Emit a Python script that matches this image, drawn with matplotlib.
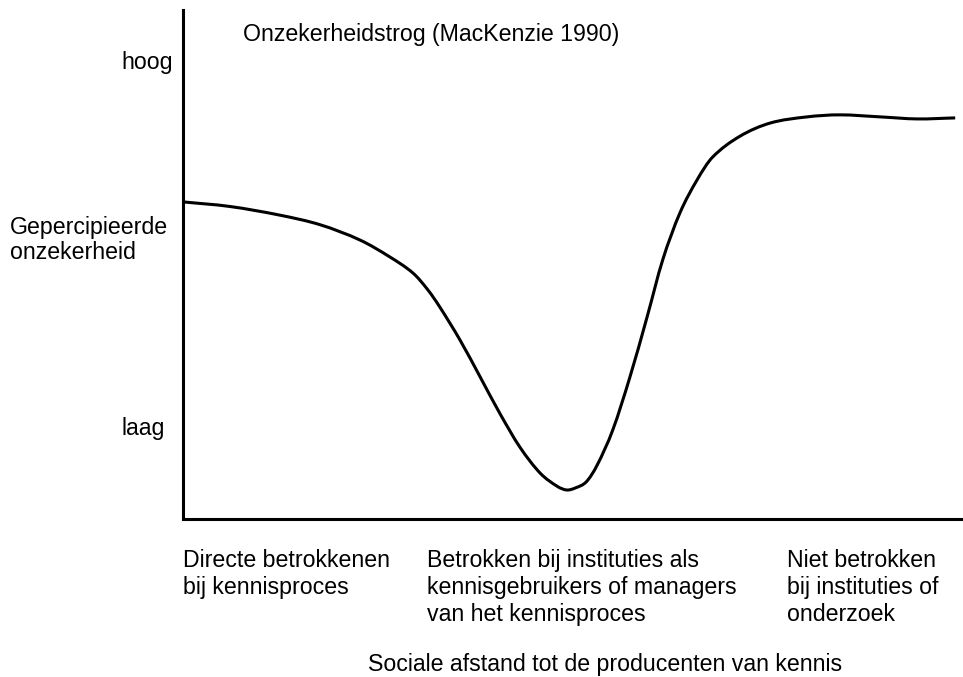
import matplotlib
matplotlib.use("Agg")
import numpy as np
import matplotlib.pyplot as plt
from matplotlib.path import Path
from matplotlib.patches import PathPatch

# Curve: social distance (0-100) vs perceived uncertainty (0-100)
afstand = [0, 6.0, 12.4, 17.6, 22.7, 26.5, 29.5, 31.4, 32.9, 35.5, 38.1, 40.6,
           43.2, 45.8, 48.0, 49.2, 50.3, 51.7, 53.1, 55.1, 57.3, 59.5, 61.5, 63.7,
           65.9, 67.9, 71.4, 75.3, 80.0, 84.2, 89.4, 94.1, 99.0]
onzekerheid = [62.3, 61.4, 59.7, 57.8, 54.8, 51.5, 48.3, 45.0, 41.7, 35.2, 27.9, 20.8,
               14.1, 9.0, 6.4, 5.7, 6.1, 7.3, 10.6, 17.5, 27.9, 39.7, 50.9, 60.1,
               66.6, 71.1, 75.2, 77.8, 79.0, 79.4, 79.0, 78.6, 78.8]

titel = "Onzekerheidstrog (MacKenzie 1990)"
y_labels = ["hoog", "Gepercipieerde\nonzekerheid", "laag"]
x_groepen = ["Directe betrokkenen\nbij kennisproces",
             "Betrokken bij instituties als\nkennisgebruikers of managers\nvan het kennisproces",
             "Niet betrokken\nbij instituties of\nonderzoek"]
x_titel = "Sociale afstand tot de producenten van kennis"

plt.rcParams['font.family'] = ['Liberation Sans', 'DejaVu Sans']
FS = 16.7

W, H = 963, 677
fig = plt.figure(figsize=(W / 100, H / 100), dpi=100)
ax = fig.add_axes([183 / W, 1 - 519 / H, (W - 183) / W, (519 - 10) / H])

# smooth curve through the read points (cubic Hermite segments as Bezier curves)
x = np.array(afstand)
y = np.array(onzekerheid)
n = len(x)
m = np.empty(n)
m[1:-1] = (y[2:] - y[:-2]) / (x[2:] - x[:-2])
m[0] = (y[1] - y[0]) / (x[1] - x[0])
m[-1] = (y[-1] - y[-2]) / (x[-1] - x[-2])
verts = [(x[0], y[0])]
codes = [Path.MOVETO]
for i in range(n - 1):
    h = x[i + 1] - x[i]
    verts += [(x[i] + h / 3, y[i] + m[i] * h / 3),
              (x[i + 1] - h / 3, y[i + 1] - m[i + 1] * h / 3),
              (x[i + 1], y[i + 1])]
    codes += [Path.CURVE4] * 3
ax.add_patch(PathPatch(Path(verts, codes), facecolor='none', edgecolor='black',
                       lw=2.2, capstyle='butt', joinstyle='round'))

ax.set_xlim(0, 100)
ax.set_ylim(0, 100)
ax.set_xticks([])
ax.set_yticks([])
for s in ['top', 'right']:
    ax.spines[s].set_visible(False)
for s in ['left', 'bottom']:
    ax.spines[s].set_linewidth(2.2)

def px(x, y):
    return x / W, 1 - y / H

fig.text(*px(243, 34), titel, fontsize=FS, va='center', ha='left')

# y-axis labels
fig.text(*px(121, 62), y_labels[0], fontsize=FS, va='center', ha='left')
fig.text(*px(10, 240), y_labels[1], fontsize=FS, va='center', ha='left',
         linespacing=1.07)
fig.text(*px(121, 428), y_labels[2], fontsize=FS, va='center', ha='left')

# x-axis group labels
for xpos, lab in zip([183, 427, 787], x_groepen):
    fig.text(*px(xpos, 549), lab, fontsize=FS, va='top', ha='left',
             linespacing=1.23)

fig.text(*px(605, 664), x_titel, fontsize=FS, va='center', ha='center')

fig.savefig("out.png", dpi=100)
